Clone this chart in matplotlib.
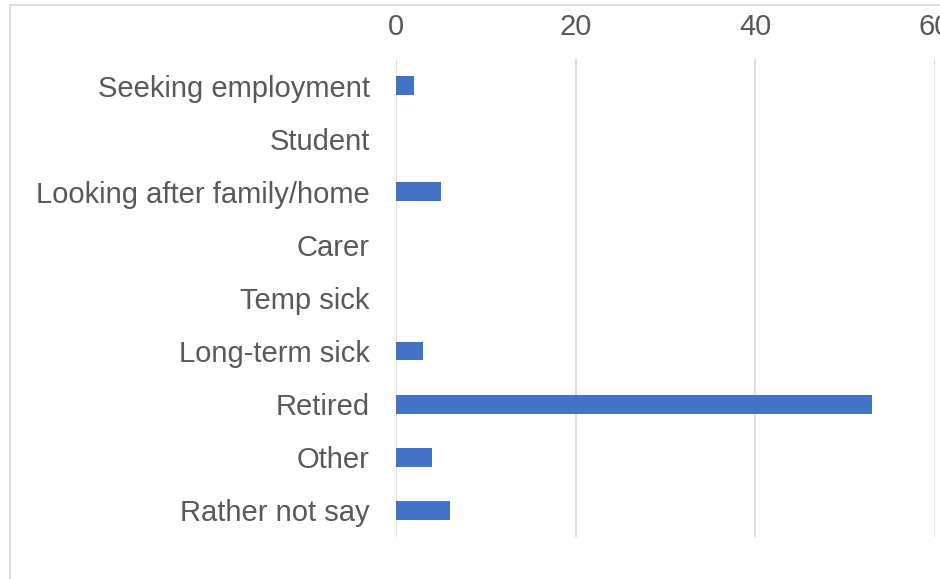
import matplotlib.pyplot as plt
import matplotlib.patches as patches

# Data
categories = ['Seeking employment', 'Student', 'Looking after family/home', 'Carer',
              'Temp sick', 'Long-term sick', 'Retired', 'Other', 'Rather not say']
values = [2, 0, 5, 0, 0, 3, 53, 4, 6]
xticks = [0, 20, 40, 60]

plt.rcParams['font.family'] = ['Liberation Sans', 'DejaVu Sans']

fig = plt.figure(figsize=(9.4, 5.79), dpi=100)
ax = fig.add_axes([396 / 940, 1 - 537 / 579, 539 / 940, 478 / 579])

# Chart border (light grey, runs off the right/bottom edge)
border = patches.Rectangle((10 / 940, -0.05), 1.0, 1 - 5 / 579 + 0.05,
                           transform=fig.transFigure, fill=False,
                           edgecolor='#d9d9d9', linewidth=1.2, zorder=0)
fig.patches.append(border)

ypos = list(range(len(categories)))
ax.barh(ypos, values, height=0.35, color='#4472C4', linewidth=0, zorder=3)

ax.set_xlim(0, 60)
ax.set_ylim(len(categories) - 0.5, -0.5)
ax.set_xticks(xticks)
ax.set_yticks(ypos)
ax.set_yticklabels(categories)

ax.xaxis.tick_top()
ax.tick_params(axis='x', length=0, pad=13, labelsize=21, labelcolor='#595959')
ax.tick_params(axis='y', length=0, pad=19, labelsize=21, labelcolor='#595959')

ax.grid(axis='x', color='#d9d9d9', linewidth=1.2, zorder=0)
for s in ax.spines.values():
    s.set_visible(False)

fig.savefig('out.png', dpi=100)
